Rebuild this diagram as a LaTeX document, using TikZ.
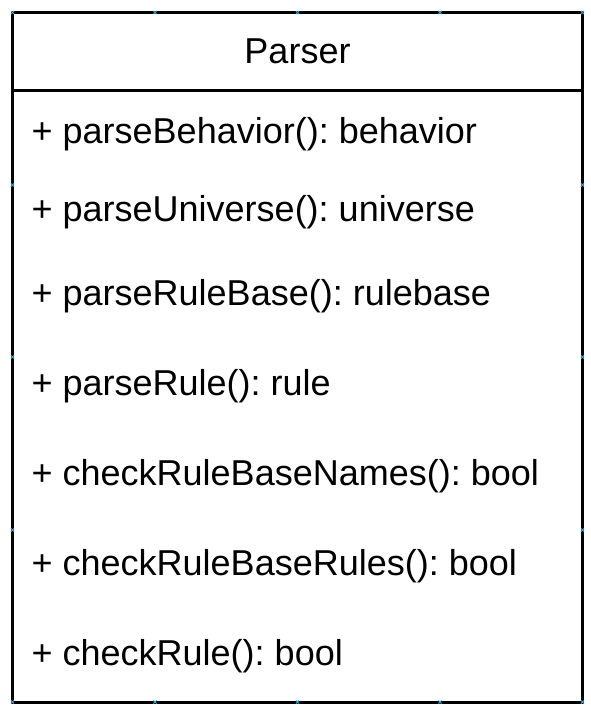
\documentclass[tikz,border=0pt]{standalone}
\usepackage{fontspec}
\setmainfont{Liberation Sans}
\frenchspacing
\definecolor{pinblue}{HTML}{3AA6DC}
\begin{document}
\begin{tikzpicture}[x=1pt,y=-1pt,
  umlline/.style={line width=3pt},
  member/.style={anchor=base west,inner sep=0pt,font=\fontsize{36}{42}\selectfont},
  title/.style={anchor=base,inner sep=0pt,font=\fontsize{36}{42}\selectfont},
  pin/.style={pinblue,line width=0.9pt}]
  \useasboundingbox (0,0) rectangle (591,710);
  \fill[white] (0,0) rectangle (591,710);

  % class box with its header compartment
  \coordinate (tl) at (12.5,12.5);
  \coordinate (br) at (582.5,702);
  \draw[umlline] (tl) rectangle (br);
  \coordinate (hl) at (12.5,90.5);
  \coordinate (hr) at (582.5,90.5);
  \draw[umlline] (hl) -- (hr);

  % class name
  \node[title] (name) at (297.5,63) {Parser};

  % operations
  \node[member] (op1) at (31.5,143) {+ parseBehavior(): behavior};
  \node[member] (op2) at (31.5,221) {+ parseUniverse(): universe};
  \node[member] (op3) at (31.5,305) {+ parseRuleBase(): rulebase};
  \node[member] (op4) at (31.5,395) {+ parseRule(): rule};
  \node[member] (op5) at (31.5,485) {+ checkRuleBaseNames(): bool};
  \node[member] (op6) at (31.5,575) {+ checkRuleBaseRules(): bool};
  \node[member] (op7) at (31.5,665) {+ checkRule(): bool};

  % connection pins along the outline
  \foreach \px/\py in {12.5/12.5,155/12.5,297.5/12.5,440/12.5,582.5/12.5,
                       12.5/702,155/702,297.5/702,440/702,582.5/702,
                       12.5/185,12.5/357,12.5/530,
                       582.5/185,582.5/357,582.5/530}{
    \draw[pin] (\px-1.6,\py-1.6) -- (\px+1.6,\py+1.6)
               (\px-1.6,\py+1.6) -- (\px+1.6,\py-1.6);
  }
\end{tikzpicture}
\end{document}
